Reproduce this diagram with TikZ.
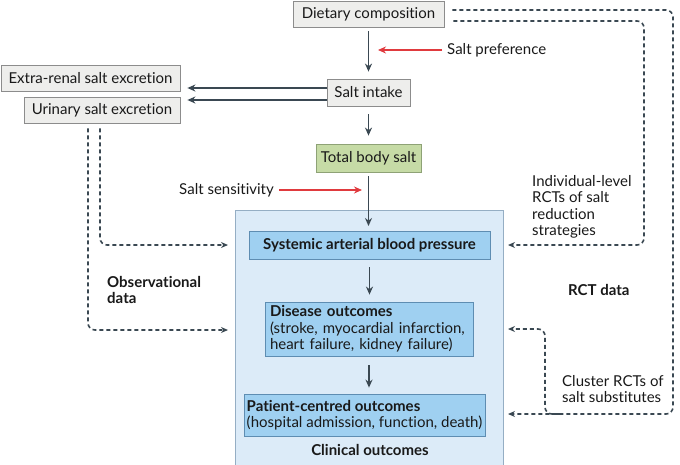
\documentclass[tikz,border=0pt]{standalone}
\usepackage{fontspec}
\setmainfont{Lato}[Ligatures={NoCommon}]
\usetikzlibrary{arrows.meta}
\definecolor{dk}{HTML}{3A4852}
\definecolor{rd}{HTML}{E03A3E}
\definecolor{gbox}{HTML}{EEEEEC}
\definecolor{gline}{HTML}{8C8C8C}
\definecolor{grn}{HTML}{C6DBA6}
\definecolor{grnl}{HTML}{8EA276}
\definecolor{bigf}{HTML}{DCEBF8}
\definecolor{bigl}{HTML}{95AEC4}
\definecolor{bf}{HTML}{9FD0F1}
\definecolor{bl}{HTML}{5E8DB2}
\begin{document}
\begin{tikzpicture}[x=1pt,y=-1pt,
  every node/.style={font=\fontsize{15}{16.5}\selectfont, text=black!90, inner sep=0pt},
  gbx/.style={draw=gline, fill=gbox, line width=0.8pt},
  gnb/.style={draw=grnl, fill=grn, line width=0.8pt},
  bbx/.style={draw=bl, fill=bf, line width=0.8pt},
  arr/.style={draw=dk, line width=1.8pt, -{Stealth[length=8pt,width=7pt]}},
  rarr/.style={draw=rd, line width=1.8pt, -{Stealth[length=8pt,width=7pt]}},
  darr/.style={draw=dk, line width=1.6pt, dash pattern=on 4pt off 3pt, rounded corners=7pt, -{Stealth[length=7pt,width=6pt]}},
  lbl/.style={align=left, anchor=west},
  bft/.style={font=\fontsize{15}{16.5}\selectfont\bfseries}
]
\useasboundingbox (0,0) rectangle (680,464);
% big clinical box
\node[draw=bigl, fill=bigf, line width=0.8pt, minimum width=268pt, minimum height=256pt, anchor=north west] (big) at (235,210) {};
% nodes
\node[gbx, minimum width=151pt, minimum height=26pt] (diet) at (368.5,14) {Dietary composition};
\node[gbx, minimum width=83pt, minimum height=27pt] (intake) at (368.5,92.5) {Salt intake};
\node[gbx, minimum width=179pt, minimum height=26pt] (extra) at (90.5,78) {Extra-renal salt excretion};
\node[gbx, minimum width=156pt, minimum height=26pt] (urin) at (102,110) {Urinary salt excretion};
\node[gnb, minimum width=105pt, minimum height=28pt] (tbs) at (368.5,158) {Total body salt};
\node[bbx, minimum width=241pt, minimum height=28pt, bft] (sabp) at (369.5,245) {Systemic arterial blood pressure};
\node[bbx, minimum width=208pt, minimum height=54pt, align=left, text width=198pt] (dis) at (369,329) {\textbf{Disease outcomes}\\(stroke, myocardial infarction,\\heart failure, kidney failure)};
\node[bbx, minimum width=241pt, minimum height=42pt, align=left] (pat) at (364.5,415) {\textbf{Patient-centred outcomes}\\(hospital admission, function, death)};
\node[bft] (clin) at (370,450) {Clinical outcomes};
% labels
\node[lbl] (pref) at (447,50) {Salt preference};
\node[anchor=east] (sens) at (274,190) {Salt sensitivity};
\node[lbl, bft] (obs) at (107,290) {Observational\\data};
\node[lbl] (ind) at (532,207) {Individual-level\\RCTs of salt\\reduction\\strategies};
\node[lbl, bft] (rct) at (568,290) {RCT data};
\node[lbl] (clu) at (562,389) {Cluster RCTs of\\salt substitutes};
% coordinates
\coordinate (prefS) at (442,50);
\coordinate (prefE) at (378,50);
\coordinate (sensS) at (279,190);
\coordinate (sensE) at (362,190);
\coordinate (obsA) at (228,245);
\coordinate (obsB) at (228,330);
\coordinate (rA) at (508,245);
\coordinate (rB) at (508,414);
\coordinate (rC) at (508,329);
\coordinate (cj) at (560,414);
% solid arrows
\draw[arr] ([yshift=-4pt]diet.south) -- ([yshift=7pt]intake.north);
\draw[arr] ([yshift=-8pt]intake.south) -- ([yshift=8pt]tbs.north);
\draw[arr] ([yshift=-4pt]tbs.south) -- ([yshift=-16pt]big.north -| tbs.south);
\draw[arr] ([yshift=-8pt]sabp.south) -- ([yshift=7pt]dis.north -| sabp.south);
\draw[arr] ([yshift=-9pt]dis.south) -- ([yshift=6pt]pat.north -| dis.south);
\draw[arr] ([yshift=4.5pt]intake.west) -- ([xshift=7pt,yshift=-10pt]extra.east);
\draw[arr] ([yshift=-7.5pt]intake.west) -- ([xshift=7pt,yshift=10pt]urin.east);
\draw[rarr] (prefS) -- (prefE);
\draw[rarr] (sensS) -- (sensE);
% dashed
\draw[darr] ([xshift=-2pt,yshift=-5pt]urin.south) |- (obsA);
\draw[darr] ([xshift=-14pt,yshift=-5pt]urin.south) |- (obsB);
\draw[darr] ([xshift=8pt,yshift=4pt]diet.east) -| (673,300) |- (rB);
\draw[darr] ([xshift=9pt,yshift=-7pt]diet.east) -| (644,150) |- (rA);
\draw[darr] (cj) -| (545,360) |- (rC);
\end{tikzpicture}
\end{document}
